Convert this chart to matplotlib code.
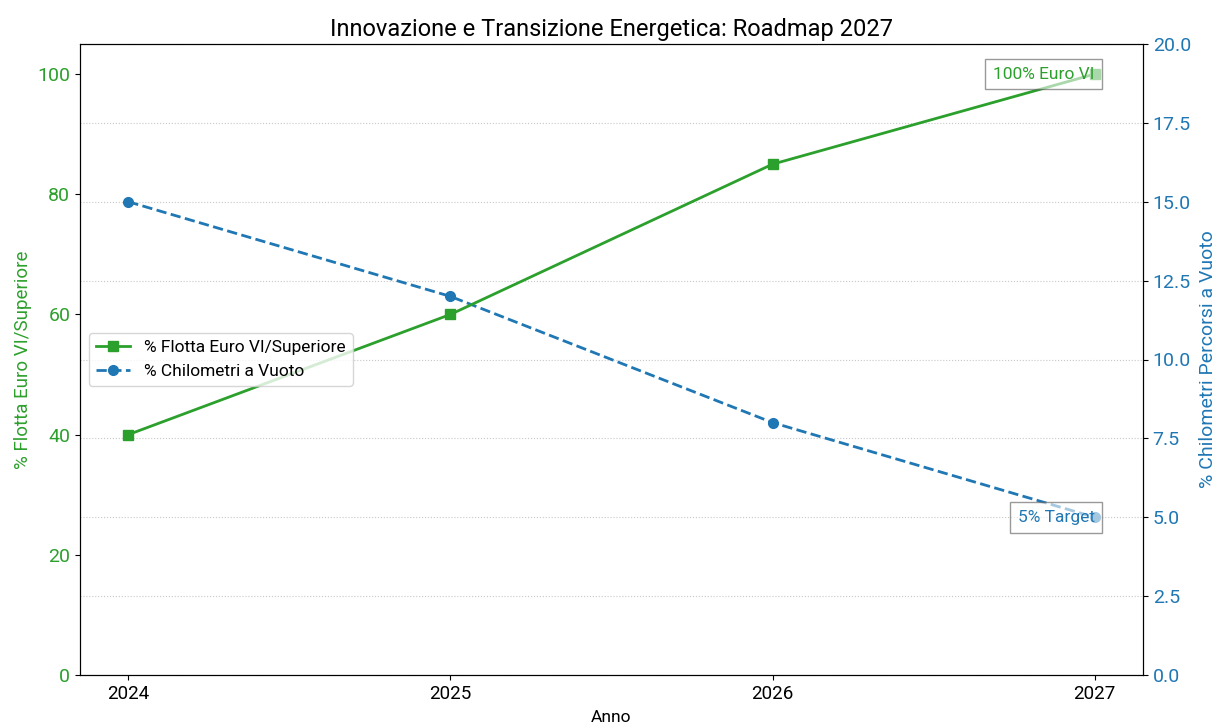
import matplotlib
matplotlib.use("Agg")
import matplotlib.pyplot as plt

plt.rcParams['font.family'] = ['Roboto', 'DejaVu Sans']

years = [2024, 2025, 2026, 2027]
euro6 = [40, 60, 85, 100]
empty_km = [15, 12, 8, 5]
year_labels = ['2024', '2025', '2026', '2027']

green = '#2ca02c'
blue = '#1f77b4'

fig = plt.figure(figsize=(12.2, 7.28), dpi=100)
ax = fig.add_axes([80/1220, 53/728, 1063/1220, 631/728])
ax2 = ax.twinx()

l1, = ax.plot(years, euro6, color=green, marker='s', markersize=7, linewidth=2,
              label='% Flotta Euro VI/Superiore')
l2, = ax2.plot(years, empty_km, color=blue, marker='o', markersize=7, linewidth=2,
               linestyle='--', label='% Chilometri a Vuoto')

ax.set_ylim(0, 105)
ax2.set_ylim(0, 20)
ax.set_xticks(years)
ax.set_xticklabels(year_labels)
ax.tick_params(axis='x', labelsize=13.5)
ax.tick_params(axis='y', labelcolor=green, labelsize=14)
ax2.tick_params(axis='y', labelcolor=blue, labelsize=14)
ax2.set_yticks([0, 2.5, 5, 7.5, 10, 12.5, 15, 17.5, 20])
ax2.set_yticklabels(['0.0', '2.5', '5.0', '7.5', '10.0', '12.5', '15.0', '17.5', '20.0'])
ax2.grid(axis='y', linestyle=':', color='#c8c8c8', linewidth=0.8)

ax.set_ylabel('% Flotta Euro VI/Superiore', color=green, fontsize=13.5)
ax2.set_ylabel('% Chilometri Percorsi a Vuoto', color=blue, fontsize=14, labelpad=6)
ax.set_xlabel('Anno', fontsize=12.5, labelpad=5)
ax.set_title('Innovazione e Transizione Energetica: Roadmap 2027', fontsize=17)

ax.text(years[-1], euro6[-1], '100% Euro VI', color=green, fontsize=12.5,
        ha='right', va='center', zorder=10,
        bbox=dict(boxstyle='square,pad=0.45', facecolor='white', edgecolor='#555555', alpha=0.6))
ax2.text(years[-1], empty_km[-1], '5% Target', color=blue, fontsize=12.5,
         ha='right', va='center', zorder=10,
         bbox=dict(boxstyle='square,pad=0.45', facecolor='white', edgecolor='#555555', alpha=0.6))

ax.legend([l1, l2], [l1.get_label(), l2.get_label()], loc='center left', fontsize=12.5)
ax.set_zorder(ax2.get_zorder() + 1)
ax.patch.set_visible(False)

fig.savefig('out.png', dpi=100)
